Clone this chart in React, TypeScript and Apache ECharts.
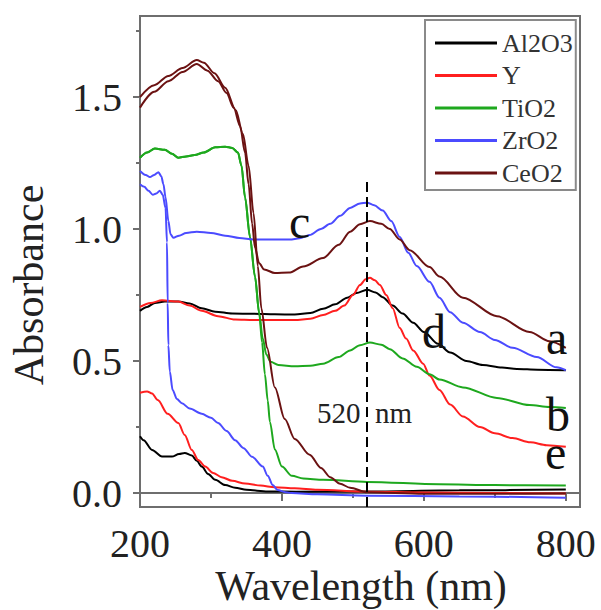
import React, { useEffect, useRef } from "react";
import * as echarts from "echarts";

// ---- data: [wavelength (nm), absorbance] ----
const legendNames = ["Al2O3", "Y", "TiO2", "ZrO2", "CeO2"];
const colors = ["#000000", "#ff1f1f", "#1ea81e", "#4b4bff", "#6b1212"];

const al2o3Au: number[][] = [
  [200, 0.69], [210, 0.705], [221, 0.72], [235, 0.725], [254, 0.725], [270, 0.718], [287, 0.70],
  [306, 0.687], [330, 0.68], [360, 0.679], [390, 0.677], [418, 0.676], [440, 0.682], [458, 0.698],
  [475, 0.715], [492, 0.74], [505, 0.758], [520, 0.77], [532, 0.76], [542, 0.742], [556, 0.71],
  [570, 0.68], [585, 0.645], [600, 0.61], [620, 0.565], [637, 0.532], [660, 0.5], [683, 0.485],
  [710, 0.475], [731, 0.47], [760, 0.467], [800, 0.465],
];
const al2o3: number[][] = [
  [200, 0.215], [205, 0.2], [217, 0.163], [231, 0.138], [245, 0.138], [255, 0.148], [263, 0.152],
  [273, 0.142], [280, 0.122], [287, 0.1], [296, 0.072], [306, 0.05], [320, 0.03], [334, 0.02],
  [350, 0.012], [380, 0.006], [420, 0.005], [520, 0.006], [650, 0.01], [800, 0.013],
];
const yAu: number[][] = [
  [200, 0.705], [215, 0.72], [231, 0.73], [254, 0.725], [270, 0.71], [287, 0.69], [310, 0.67],
  [334, 0.657], [360, 0.655], [390, 0.655], [418, 0.655], [440, 0.66], [458, 0.674], [475, 0.69],
  [488, 0.71], [500, 0.75], [510, 0.788], [518, 0.81], [524, 0.815], [531, 0.806], [538, 0.788],
  [547, 0.75], [556, 0.7], [566, 0.625], [575, 0.585], [585, 0.54], [599, 0.49], [608, 0.445],
  [622, 0.39], [637, 0.335], [655, 0.29], [679, 0.25], [700, 0.226], [725, 0.208], [750, 0.192],
  [773, 0.181], [800, 0.175],
];
const yBare: number[][] = [
  [200, 0.38], [210, 0.385], [217, 0.377], [225, 0.352], [239, 0.3], [254, 0.265], [263, 0.22],
  [273, 0.163], [282, 0.125], [292, 0.1], [303, 0.076], [315, 0.06], [330, 0.046], [348, 0.036],
  [370, 0.028], [390, 0.022], [418, 0.018], [450, 0.012], [520, 0.005], [600, 0.002], [700, 0.0],
  [800, -0.002],
];
const tio2Au: number[][] = [
  [200, 1.27], [210, 1.29], [221, 1.305], [235, 1.3], [245, 1.285], [254, 1.27], [265, 1.275],
  [277, 1.28], [290, 1.29], [306, 1.31], [320, 1.312], [330, 1.307], [338, 1.29], [343, 1.24],
  [348, 1.12], [355, 0.97], [362, 0.82], [368, 0.68], [373, 0.585], [378, 0.525], [384, 0.497],
  [395, 0.485], [418, 0.48], [440, 0.482], [458, 0.49], [480, 0.515], [496, 0.54], [510, 0.56],
  [524, 0.57], [540, 0.562], [552, 0.545], [570, 0.51], [590, 0.478], [608, 0.45], [622, 0.43],
  [655, 0.4], [703, 0.36], [749, 0.333], [777, 0.326], [800, 0.322],
];
const tio2: number[][] = [
  [200, 1.27], [210, 1.29], [221, 1.305], [235, 1.3], [245, 1.285], [254, 1.27], [265, 1.275],
  [277, 1.28], [290, 1.29], [306, 1.31], [320, 1.312], [330, 1.307], [338, 1.29], [343, 1.24],
  [348, 1.12], [355, 0.97], [362, 0.82], [368, 0.68], [372, 0.57], [376, 0.45], [380, 0.35],
  [383, 0.27], [390, 0.165], [400, 0.1], [414, 0.065], [430, 0.055], [458, 0.05], [520, 0.042],
  [622, 0.033], [700, 0.03], [800, 0.028],
];
const zro2Au: number[][] = [
  [200, 1.22], [208, 1.205], [214, 1.197], [220, 1.205], [226, 1.215], [230, 1.2], [233, 1.17],
  [236, 1.12], [240, 1.03], [243, 0.98], [247, 0.967], [255, 0.975], [265, 0.985], [280, 0.99],
  [300, 0.985], [320, 0.975], [340, 0.966], [360, 0.96], [380, 0.96], [411, 0.96], [425, 0.965],
  [439, 0.977], [455, 1.0], [468, 1.02], [482, 1.05], [496, 1.08], [510, 1.097], [520, 1.1],
  [530, 1.09], [542, 1.07], [554, 1.03], [566, 0.97], [578, 0.91], [590, 0.86], [608, 0.8],
  [622, 0.74], [637, 0.685], [655, 0.645], [679, 0.61], [700, 0.58], [725, 0.55], [759, 0.515],
  [787, 0.476], [800, 0.465],
];
const zro2: number[][] = [
  [200, 1.17], [206, 1.16], [212, 1.145], [218, 1.13], [223, 1.135], [228, 1.145], [232, 1.13],
  [236, 1.08], [238, 0.95], [239, 0.72], [240, 0.56], [242, 0.46], [246, 0.39], [252, 0.356],
  [259, 0.34], [270, 0.32], [287, 0.3], [300, 0.285], [310, 0.265], [322, 0.235], [334, 0.2],
  [346, 0.17], [358, 0.137], [373, 0.1], [380, 0.065], [387, 0.03], [394, 0.011], [405, 0.003],
  [414, 0.0], [450, -0.005], [520, -0.01], [650, -0.013], [800, -0.018],
];
const ceo2Au: number[][] = [
  [200, 1.46], [220, 1.52], [240, 1.56], [260, 1.595], [280, 1.625], [295, 1.6], [310, 1.56],
  [322, 1.515], [332, 1.46], [341, 1.39], [348, 1.29], [353, 1.17], [358, 1.02], [362, 0.93],
  [368, 0.87], [375, 0.847], [390, 0.833], [410, 0.835], [430, 0.858], [458, 0.89], [480, 0.94],
  [496, 0.99], [510, 1.018], [524, 1.03], [540, 1.02], [552, 1.0], [566, 0.96], [580, 0.92],
  [608, 0.856], [622, 0.82], [655, 0.74], [703, 0.67], [749, 0.61], [777, 0.575], [800, 0.55],
];
const ceo2: number[][] = [
  [200, 1.5], [220, 1.545], [240, 1.58], [260, 1.61], [280, 1.64], [290, 1.63], [305, 1.59],
  [320, 1.535], [335, 1.45], [345, 1.36], [353, 1.24], [360, 1.06], [366, 0.86], [371, 0.7],
  [379, 0.55], [390, 0.4], [404, 0.28], [418, 0.205], [439, 0.145], [455, 0.095], [468, 0.06],
  [482, 0.035], [496, 0.02], [520, 0.003], [600, -0.003], [700, -0.003], [800, -0.002],
];

const xMajorTicks = [200, 400, 600, 800];
const xMinorTicks = [300, 500, 700];
const yMajorTicks = [0, 0.5, 1.0, 1.5];
const yMinorTicks = [0.25, 0.75, 1.25, 1.75];
const markerWavelength = 520;
const markerTop = 1.19;
const curveLabels = ["a", "b", "c", "d", "e"];

const X_MIN = 200, X_MAX = 820, Y_MIN = -0.053, Y_MAX = 1.807;
const FONT = "Liberation Serif";
const AXIS_GRAY = "#6e6e6e";

export default function App() {
  const ref = useRef<HTMLDivElement>(null);
  useEffect(() => {
    if (!ref.current) return;
    const chart = echarts.init(ref.current, undefined, { renderer: "svg" });
    const pairs: [number[][], number[][]][] = [
      [al2o3, al2o3Au], [yBare, yAu], [tio2, tio2Au], [zro2, zro2Au], [ceo2, ceo2Au],
    ];
    const series: any[] = [];
    pairs.forEach(([bare, au], i) => {
      [bare, au].forEach((d) => {
        series.push({
          type: "line",
          name: legendNames[i],
          data: d,
          xAxisIndex: 0,
          yAxisIndex: 0,
          symbol: "none",
          showSymbol: false,
          smooth: 0.3,
          smoothMonotone: "x",
          lineStyle: { color: colors[i], width: 2 },
          itemStyle: { color: colors[i] },
          silent: true,
        });
      });
    });
    series[0].markLine = {
      symbol: "none",
      silent: true,
      label: { show: false },
      lineStyle: { color: "#000", width: 2, type: [10, 5] },
      data: [[{ coord: [markerWavelength, Y_MIN] }, { coord: [markerWavelength, markerTop] }]],
    };

    const letterPos: Record<string, [number, number]> = {
      a: [546, 337], b: [546, 414], c: [289, 221], d: [422, 331], e: [545, 452],
    };
    const graphics: any[] = curveLabels.map((l) => ({
      type: "text",
      x: letterPos[l][0],
      y: letterPos[l][1],
      style: { text: l, font: `48px "${FONT}"`, fill: "#111", align: "left", verticalAlign: "middle" },
      z: 100,
    }));
    graphics.push(
      { type: "text", x: 317, y: 413, style: { text: String(markerWavelength), font: `29px "${FONT}"`, fill: "#222", align: "left", verticalAlign: "middle" }, z: 100 },
      { type: "text", x: 375, y: 413, style: { text: "nm", font: `29px "${FONT}"`, fill: "#222", align: "left", verticalAlign: "middle" }, z: 100 },
      { type: "text", x: 361, y: 586, style: { text: "Wavelength (nm)", font: `42px "${FONT}"`, fill: "#222", align: "center", verticalAlign: "middle" }, z: 100 },
      { type: "text", x: 29, y: 285, rotation: Math.PI / 2, style: { text: "Absorbance", font: `42px "${FONT}"`, fill: "#222", align: "center", verticalAlign: "middle" }, z: 100 }
    );

    chart.setOption({
      animation: false,
      backgroundColor: "#ffffff",
      textStyle: { fontFamily: FONT },
      grid: {
        left: 140, right: 21, top: 16, bottom: 103,
        show: true, borderColor: AXIS_GRAY, borderWidth: 2, containLabel: false,
      },
      legend: {
        data: legendNames,
        orient: "vertical",
        left: 425,
        top: 20,
        padding: [10, 3, 4, 10],
        itemGap: 6.5,
        itemWidth: 62,
        itemHeight: 3,
        icon: "rect",
        backgroundColor: "#fff",
        borderColor: "#8a8a8a",
        borderWidth: 2,
        textStyle: { fontFamily: FONT, fontSize: 26, color: "#333", lineHeight: 26 },
      },
      xAxis: [
        {
          type: "value", min: X_MIN, max: X_MAX, position: "bottom",
          axisLine: { show: true, lineStyle: { color: AXIS_GRAY, width: 2 } },
          axisTick: { show: true, customValues: xMajorTicks, length: 8, lineStyle: { color: AXIS_GRAY, width: 2 } },
          axisLabel: {
            show: true, customValues: xMajorTicks, fontFamily: FONT, fontSize: 40, color: "#222", margin: 16,
          },
          splitLine: { show: false },
        },
        {
          type: "value", min: X_MIN, max: X_MAX, position: "bottom",
          axisLine: { show: false },
          axisTick: { show: true, customValues: xMinorTicks, length: 5, lineStyle: { color: AXIS_GRAY, width: 2 } },
          axisLabel: { show: false },
          splitLine: { show: false },
        },
      ],
      yAxis: [
        {
          type: "value", min: Y_MIN, max: Y_MAX, position: "left",
          axisLine: { show: true, lineStyle: { color: AXIS_GRAY, width: 2 } },
          axisTick: { show: true, customValues: yMajorTicks, length: 7, lineStyle: { color: AXIS_GRAY, width: 2 } },
          axisLabel: {
            show: true, customValues: yMajorTicks, fontFamily: FONT, fontSize: 40, color: "#222", margin: 18,
            formatter: (v: number) => v.toFixed(1),
          },
          splitLine: { show: false },
        },
        {
          type: "value", min: Y_MIN, max: Y_MAX, position: "left",
          axisLine: { show: false },
          axisTick: { show: true, customValues: yMinorTicks, length: 4, lineStyle: { color: AXIS_GRAY, width: 2 } },
          axisLabel: { show: false },
          splitLine: { show: false },
        },
      ],
      series,
      graphic: graphics,
    });
    return () => chart.dispose();
  }, []);
  return <div ref={ref} style={{ width: 601, height: 610, position: "absolute", left: 0, top: 0 }} />;
}
